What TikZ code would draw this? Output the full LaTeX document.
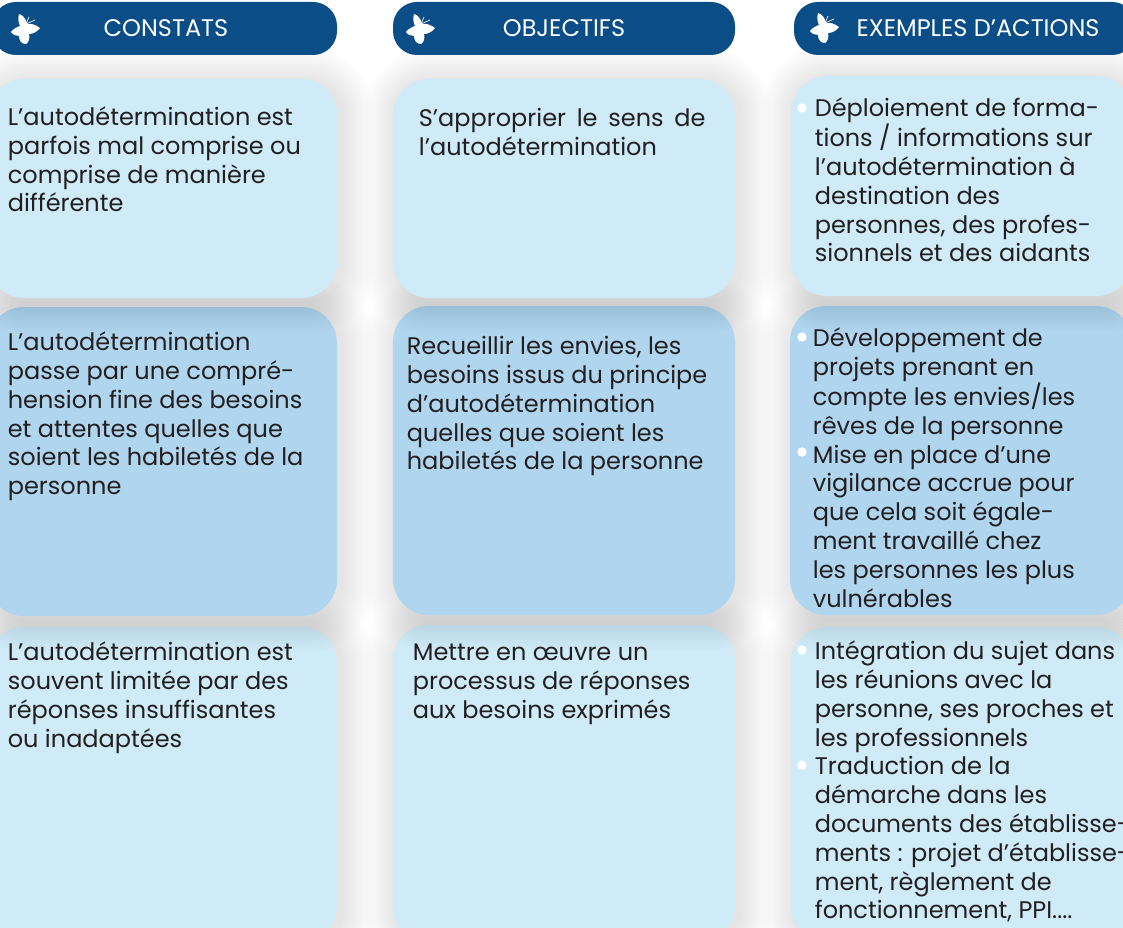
\documentclass[tikz,border=0pt]{standalone}
\usepackage{fontspec}
\setmainfont{Poppins}
\definecolor{navy}{HTML}{0A4D87}
\definecolor{pale}{HTML}{CEEBF7}
\definecolor{mid}{HTML}{B0D5EE}
\definecolor{ink}{HTML}{231F20}
\tikzset{
  x=0.75pt,y=-0.75pt,
  bodytext/.style={anchor=north west,inner sep=0pt,align=left,text=ink,
    font=\fontsize{18}{21.6}\selectfont},
  headtext/.style={inner sep=0pt,text=white,font=\fontsize{18}{20}\selectfont},
  headbox/.style={fill=navy,rounded corners=18pt},
  bulletdot/.style={circle,fill=white,inner sep=0pt,minimum size=7pt},
}
\newcommand{\softcard}[5]{%
  \foreach \g in {1,...,13}{
    \fill[black,opacity=0.0095,rounded corners=27pt+\g*1.5pt]
      ({#1+4-\g*2.5},{#2+3-\g*2.5}) rectangle ({#3+4+\g*2.5},{#4+3+\g*2.5});
  }
  \fill[#5,rounded corners=27pt] (#1,#2) rectangle (#3,#4);
}
\newcommand{\bodyat}[4]{\node[bodytext] (#1) at ({#2-0.4},{#3-22.0}) {\rule{0pt}{16pt}#4};}
\newcommand{\butterfly}[2]{%
  \begin{scope}[shift={(#1,#2)}]
    \fill[white] (-6,-15) .. controls (-2,-14) and (1,-10) .. (2,-5)
      .. controls (6,-6) and (11,-4) .. (15,-1)
      .. controls (12,3) and (8,5) .. (4,5)
      .. controls (5,9) and (4,13) .. (1,15)
      .. controls (-3,15) and (-6,12) .. (-6,7)
      .. controls (-9,7) and (-12,6) .. (-14,3)
      .. controls (-12,0) and (-8,-2) .. (-5,-3)
      .. controls (-7,-7) and (-7,-11) .. (-6,-15) -- cycle;
    \draw[white,line width=0.5pt] (1,-5) -- (4,-12) (1,-5) -- (10,-9);
  \end{scope}
}
\begin{document}
\begin{tikzpicture}
\useasboundingbox (0,0) rectangle (1123,927);
\clip (0,0) rectangle (1123,927);
\fill[white] (0,0) rectangle (1123,927);
% third row first: shadows of upper rows fall on it
\softcard{-12}{627}{337}{942}{pale}
\softcard{393}{625}{735}{942}{pale}
\softcard{791}{627}{1132}{942}{pale}
\softcard{-12}{307}{337}{616}{mid}
\softcard{393}{306}{735}{615}{mid}
\softcard{790}{306}{1132}{615}{mid}
\softcard{-12}{79}{337}{298}{pale}
\softcard{393}{79}{735}{298}{pale}
\softcard{791}{76}{1132}{296}{pale}
% headers
\fill[headbox] (-8,2) rectangle (337,55);
\fill[headbox] (393,2) rectangle (735,55);
\fill[headbox] (794,2) rectangle (1136,55);
\butterfly{25}{29}
\butterfly{420}{29}
\butterfly{824}{28}
\node[headtext] (h1) at (166,28) {CONSTATS};
\node[headtext] (h2) at (564,28) {OBJECTIFS};
\node[headtext] (h3) at (978,28) {EXEMPLES D’ACTIONS};
% column 1
\bodyat{a1}{8}{126}{L’autodétermination est\\parfois mal comprise ou\\comprise de manière\\différente}
\bodyat{a2}{8}{351}{L’autodétermination\\passe par une compré-\\hension fine des besoins\\et attentes quelles que\\soient les habiletés de la\\personne}
\bodyat{a3}{8}{661}{L’autodétermination est\\souvent limitée par des\\réponses insuffisantes\\ou inadaptées}
% column 2
\bodyat{b1}{419}{127}{\makebox[215pt][s]{S’approprier le sens de}\\l’autodétermination}
\bodyat{b2}{407}{355}{Recueillir les envies, les\\besoins issus du principe\\d’autodétermination\\quelles que soient les\\habiletés de la personne}
\bodyat{b3}{413}{661}{Mettre en œuvre un\\processus de réponses\\aux besoins exprimés}
% column 3
\bodyat{c1}{815}{117}{Déploiement de forma-\\tions / informations sur\\l’autodétermination à\\destination des\\personnes, des profes-\\sionnels et des aidants}
\bodyat{c2}{813}{347}{Développement de\\projets prenant en\\compte les envies/les\\rêves de la personne\\Mise en place d’une\\vigilance accrue pour\\que cela soit égale-\\ment travaillé chez\\les personnes les plus\\vulnérables}
\bodyat{c3}{815}{660}{Intégration du sujet dans\\les réunions avec la\\personne, ses proches et\\les professionnels\\Traduction de la\\démarche dans les\\documents des établisse-\\ments : projet d’établisse-\\ment, règlement de\\fonctionnement, PPI....}
\node[bulletdot] (d1) at (802,108) {};
\node[bulletdot] (d2) at (802,337) {};
\node[bulletdot] (d3) at (802,452) {};
\node[bulletdot] (d4) at (802,650) {};
\node[bulletdot] (d5) at (802,765) {};
\end{tikzpicture}
\end{document}
